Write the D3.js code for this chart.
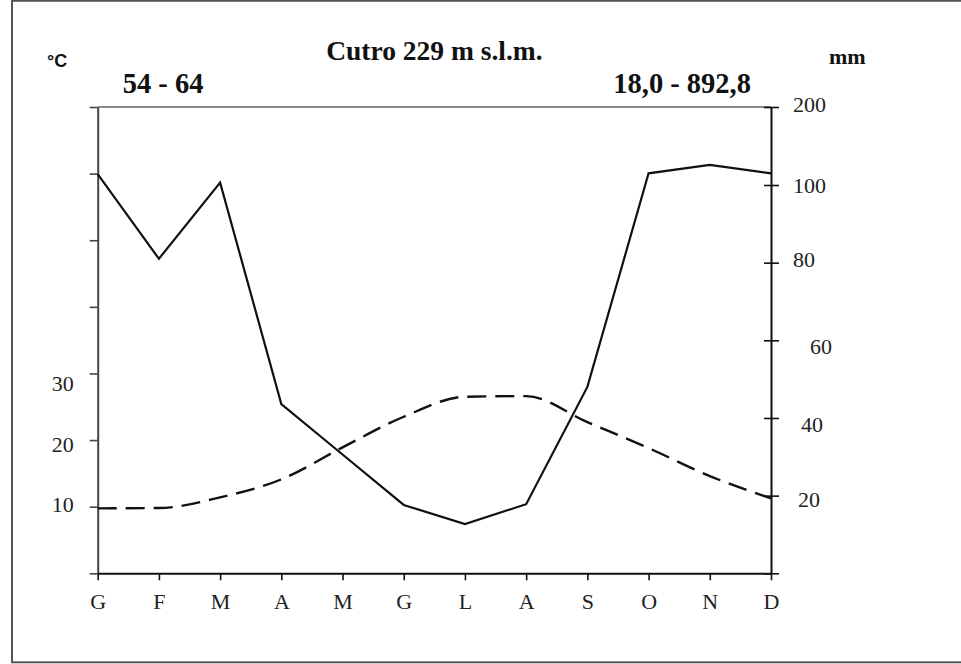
<!DOCTYPE html>
<html>
<head>
<meta charset="utf-8">
<script src="https://cdn.jsdelivr.net/npm/d3@7"></script>
<style>
  html, body { margin: 0; padding: 0; background: #fff; }
  svg { display: block; }
</style>
</head>
<body>
<svg id="chart" width="961" height="664"></svg>
<script>
// ---- data ----
const months = ["G", "F", "M", "A", "M", "G", "L", "A", "S", "O", "N", "D"];
const precipitation = [114, 81, 103, 43.6, 30.6, 17.6, 12.7, 17.8, 48, 115, 125.7, 115]; // mm
const temperature = [9.75, 9.8, 11.4, 14.1, 18.9, 23.5, 26.5, 26.6, 22.7, 18.8, 14.6, 11.25]; // °C
const tempTicks = [0, 10, 20, 30, 40, 50, 60, 70];
const tempTickLabels = [10, 20, 30];
const precTicks = [0, 20, 40, 60, 80, 100, 200];
const precTickLabels = [20, 40, 60, 80, 100, 200];
const title = "Cutro 229 m s.l.m.";
const yearsLabel = "54 - 64";
const summaryLabel = "18,0 - 892,8";
const leftUnit = "°C";
const rightUnit = "mm";

// ---- layout / style ----
const X0 = 97.7, X1 = 771, YB = 573.3, YT = 107;
const leftNudge = { 10: [0, -3], 20: [0, 4], 30: [0, 10] };
const rightNudge = { 20: [5, 3], 40: [8, 6], 60: [17, 6], 80: [0, -4], 100: [0, 0], 200: [0, -3] };
const serif = "'Liberation Serif', 'Times New Roman', serif";
const sans = "'Liberation Sans', Arial, sans-serif";

const svg = d3.select("#chart");

// frame
svg.append("rect")
  .attr("x", 12).attr("y", 0.8).attr("width", 970).attr("height", 661.5)
  .attr("fill", "none").attr("stroke", "#555").attr("stroke-width", 2);

const x = d3.scaleLinear().domain([0, months.length - 1]).range([X0, X1]);
const yT = d3.scaleLinear().domain([0, 70]).range([YB, YT]);
const yP = d3.scaleLinear().domain([0, 100, 200]).range([YB, 185, YT]);

// top gray line
svg.append("line")
  .attr("x1", X0).attr("x2", X1).attr("y1", YT).attr("y2", YT)
  .attr("stroke", "#8a8a8a").attr("stroke-width", 2.2);

// left axis (°C)
const gL = svg.append("g").attr("transform", `translate(${X0},0)`)
  .call(d3.axisLeft(yT).tickValues(tempTicks).tickSize(8).tickSizeOuter(0)
    .tickFormat(d => tempTickLabels.includes(d) ? d : ""));
gL.select(".domain").attr("stroke", "#444").attr("stroke-width", 2);
gL.selectAll(".tick line").attr("stroke", "#444").attr("stroke-width", 1.6);
gL.selectAll(".tick text")
  .attr("font-family", serif).attr("font-size", 22).attr("fill", "#222")
  .attr("x", -24)
  .attr("dy", null)
  .attr("y", d => (leftNudge[d] || [0, 0])[1])
  .attr("dominant-baseline", "central");

// right axis (mm)
const gR = svg.append("g").attr("transform", `translate(${X1},0)`)
  .call(d3.axisRight(yP).tickValues(precTicks).tickSize(8).tickSizeOuter(0)
    .tickFormat(d => precTickLabels.includes(d) ? d : ""));
gR.select(".domain").attr("stroke", "#111").attr("stroke-width", 2);
gR.selectAll(".tick line").attr("x1", -7).attr("x2", 8).attr("stroke", "#111").attr("stroke-width", 1.6);
gR.selectAll(".tick text")
  .attr("font-family", serif).attr("font-size", 22).attr("fill", "#222")
  .attr("x", d => 22 + (rightNudge[d] || [0, 0])[0])
  .attr("dy", null)
  .attr("y", d => (rightNudge[d] || [0, 0])[1])
  .attr("dominant-baseline", "central");

// bottom axis (months)
const gB = svg.append("g").attr("transform", `translate(0,${YB})`)
  .call(d3.axisBottom(x).tickValues(d3.range(months.length)).tickSize(7).tickSizeOuter(0)
    .tickFormat(i => months[i]));
gB.select(".domain").attr("stroke", "#111").attr("stroke-width", 2);
gB.selectAll(".tick line").attr("stroke", "#111").attr("stroke-width", 1.6);
gB.selectAll(".tick text")
  .attr("font-family", serif).attr("font-size", 22).attr("fill", "#222")
  .attr("y", 20);

// precipitation (solid)
svg.append("path")
  .datum(precipitation)
  .attr("fill", "none").attr("stroke", "#111").attr("stroke-width", 2.2)
  .attr("stroke-linejoin", "miter")
  .attr("d", d3.line().x((d, i) => x(i)).y(d => yP(d)));

// temperature (dashed, smoothed)
svg.append("path")
  .datum(temperature)
  .attr("fill", "none").attr("stroke", "#111").attr("stroke-width", 2.4)
  .attr("stroke-dasharray", "19,9")
  .attr("d", d3.line().x((d, i) => x(i)).y(d => yT(d)).curve(d3.curveMonotoneX));

// texts
svg.append("text").text(title)
  .attr("x", (X0 + X1) / 2).attr("y", 60).attr("text-anchor", "middle")
  .attr("font-family", serif).attr("font-weight", "bold").attr("font-size", 27.5).attr("fill", "#111");
svg.append("text").text(yearsLabel)
  .attr("x", 122.7).attr("y", 93.3)
  .attr("font-family", serif).attr("font-weight", "bold").attr("font-size", 28.5).attr("fill", "#111");
svg.append("text").text(summaryLabel)
  .attr("x", 751).attr("y", 93.3).attr("text-anchor", "end")
  .attr("font-family", serif).attr("font-weight", "bold").attr("font-size", 28.5).attr("fill", "#111");
svg.append("text").text(leftUnit)
  .attr("x", 47).attr("y", 66.5)
  .attr("font-family", sans).attr("font-weight", "bold").attr("font-size", 18).attr("fill", "#111");
svg.append("text").text(rightUnit)
  .attr("x", 829).attr("y", 63.5)
  .attr("font-family", serif).attr("font-weight", "bold").attr("font-size", 22).attr("fill", "#111");
</script>
</body>
</html>
